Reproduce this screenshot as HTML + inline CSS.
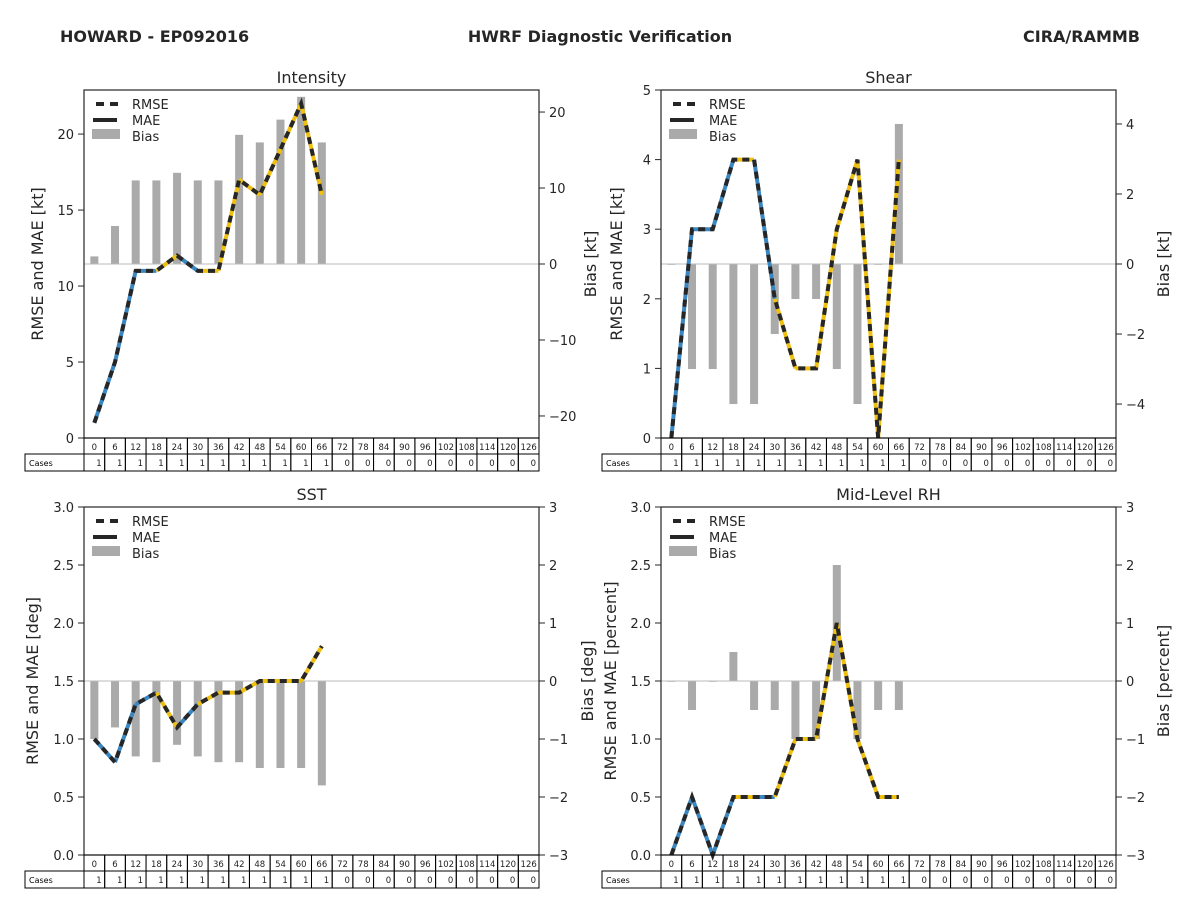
<!DOCTYPE html>
<html><head><meta charset="utf-8">
<style>
body{margin:0;background:#fff;}
svg{display:block;font-family:"DejaVu Sans","Liberation Sans",sans-serif;}
</style></head>
<body>
<svg id="chart" width="1200" height="900" viewBox="0 0 1200 900">
<rect width="1200" height="900" fill="#fff"/>
<text x="60" y="42" font-size="16" font-weight="bold" fill="#262626">HOWARD - EP092016</text>
<text x="600" y="42" font-size="16" font-weight="bold" fill="#262626" text-anchor="middle">HWRF Diagnostic Verification</text>
<text x="1140" y="42" font-size="16" font-weight="bold" fill="#262626" text-anchor="end">CIRA/RAMMB</text>
</svg>
<script>
const hours = [0,6,12,18,24,30,36,42,48,54,60,66,72,78,84,90,96,102,108,114,120,126];
const cases = [1,1,1,1,1,1,1,1,1,1,1,1,0,0,0,0,0,0,0,0,0,0];
const segColors = ['b','b','b','y','b','y','y','y','y','y','y'];
const intensityErr = [1,5,11,11,12,11,11,17,16,19,22,16];
const intensityBias = [1,5,11,11,12,11,11,17,16,19,22,16];
const shearErr = [0,3,3,4,4,2,1,1,3,4,0,4];
const shearBias = [0,-3,-3,-4,-4,-2,-1,-1,-3,-4,0,4];
const sstErr = [1.0,0.8,1.3,1.4,1.1,1.3,1.4,1.4,1.5,1.5,1.5,1.8];
const sstBias = [-1.0,-0.8,-1.3,-1.4,-1.1,-1.3,-1.4,-1.4,-1.5,-1.5,-1.5,-1.8];
const rhErr = [0,0.5,0,0.5,0.5,0.5,1,1,2,1,0.5,0.5];
const rhBias = [0,-0.5,0,0.5,-0.5,-0.5,-1,-1,2,-1,-0.5,-0.5];
const intensityTicksL = [0,5,10,15,20];
const intensityTicksR = [-20,-10,0,10,20];
const shearTicksL = [0,1,2,3,4,5];
const shearTicksR = [-4,-2,0,2,4];
const sstTicksL = [0,0.5,1,1.5,2,2.5,3];
const sstTicksR = [-3,-2,-1,0,1,2,3];

const NS='http://www.w3.org/2000/svg';
const svg=document.getElementById('chart');
function mk(tag,attrs,parent,text){const e=document.createElementNS(NS,tag);for(const k in attrs)e.setAttribute(k,attrs[k]);if(text!==undefined)e.textContent=text;(parent||svg).appendChild(e);return e;}
function fmt(v,dec){const s=dec?v.toFixed(1):String(v);return s.replace('-','\u2212');}

function panel(cfg){
  const g=mk('g',{});
  
  
  const X0=cfg.x,Y0=cfg.y,W=455,H=348;
  const cw=W/hours.length;
  const xs=i=>X0+cw*(i+0.5);
  const yl=v=>Y0+H-(v-cfg.lmin)/(cfg.lmax-cfg.lmin)*H;
  const yr=v=>Y0+H-(v-cfg.rmin)/(cfg.rmax-cfg.rmin)*H;
  const t=mk('text',{x:X0+W/2,y:Y0-7,'font-size':16,'text-anchor':'middle',fill:'#262626'},g,cfg.title);
  
  
  cfg.bias.forEach((v,i)=>{
    const y1=yr(Math.max(v,0)),y2=yr(Math.min(v,0));
    const b=mk('rect',{x:xs(i)-4,y:y1,width:8,height:Math.max(y2-y1,0.8),fill:'#aaaaaa'},g);
    
    
  });
  mk('line',{x1:X0,x2:X0+W,y1:yr(0),y2:yr(0),stroke:'#bbbbbb','stroke-width':1},g);
  for(let i=0;i<cfg.err.length-1;i++){
    const s=mk('line',{x1:xs(i),y1:yl(cfg.err[i]),x2:xs(i+1),y2:yl(cfg.err[i+1]),stroke:segColors[i]==='b'?'#3a86c0':'#f0c010','stroke-width':4,'stroke-linecap':'butt'},g);
    
    
  }
  const pts=cfg.err.map((v,i)=>xs(i)+','+yl(v)).join(' ');
  const r=mk('polyline',{points:pts,fill:'none',stroke:'#262626','stroke-width':4,'stroke-dasharray':'7,5','stroke-linejoin':'miter'},g);
  
  
  mk('rect',{x:X0,y:Y0,width:W,height:H,fill:'none',stroke:'#262626','stroke-width':1.2},g);
  cfg.tl.forEach(v=>{const y=yl(v);mk('line',{x1:X0-6,x2:X0,y1:y,y2:y,stroke:'#262626'},g);
    const tx=mk('text',{x:X0-10,y:y+5,'font-size':13,'text-anchor':'end',fill:'#262626'},g,fmt(v,cfg.dec));
    });
  cfg.tr.forEach(v=>{const y=yr(v);mk('line',{x1:X0+W,x2:X0+W+6,y1:y,y2:y,stroke:'#262626'},g);
    const tx=mk('text',{x:X0+W+10,y:y+5,'font-size':13,fill:'#262626'},g,fmt(v,false));
    });
  const ll=mk('text',{transform:`translate(${cfg.llx},${Y0+H/2}) rotate(-90)`,'font-size':16,'text-anchor':'middle',fill:'#262626'},g,cfg.lLabel);
  
  const rl=mk('text',{transform:`translate(${cfg.rlx},${Y0+H/2}) rotate(-90)`,'font-size':16,'text-anchor':'middle',fill:'#262626'},g,cfg.rLabel);
  
  const lg=mk('g',{},g);
  
  mk('line',{x1:X0+12,x2:X0+36,y1:Y0+14,y2:Y0+14,stroke:'#262626','stroke-width':4,'stroke-dasharray':'8,6'},lg);
  mk('line',{x1:X0+9,x2:X0+33,y1:Y0+30,y2:Y0+30,stroke:'#262626','stroke-width':4},lg);
  mk('rect',{x:X0+8,y:Y0+39,width:28,height:10,fill:'#aaaaaa'},lg);
  ['RMSE','MAE','Bias'].forEach((s,i)=>mk('text',{x:X0+48,y:Y0+19+i*16,'font-size':13,fill:'#262626'},lg,s));
  const tb=mk('g',{},g);
  
  const TY=Y0+H;
  mk('rect',{x:X0-59,y:TY+16,width:59,height:17,fill:'none',stroke:'#000'},tb);
  mk('text',{x:X0-55,y:TY+28,'font-size':8,fill:'#000'},tb,'Cases');
  hours.forEach((h,i)=>{
    const x=X0+cw*i;
    mk('rect',{x:x,y:TY,width:cw,height:16,fill:'none',stroke:'#000'},tb);
    mk('rect',{x:x,y:TY+16,width:cw,height:17,fill:'none',stroke:'#000'},tb);
    mk('text',{x:x+cw/2,y:TY+12,'font-size':8.5,'text-anchor':'middle',fill:'#222'},tb,String(h));
    mk('text',{x:x+cw-3,y:TY+28,'font-size':8.5,'text-anchor':'end',fill:'#222'},tb,String(cases[i]));
  });
}
panel({name:'intensity',title:'Intensity',x:84,y:90,lmin:0,lmax:22.9,rmin:-22.9,rmax:22.9,err:intensityErr,bias:intensityBias,tl:intensityTicksL,tr:intensityTicksR,dec:false,lLabel:'RMSE and MAE [kt]',rLabel:'Bias [kt]',llx:43,rlx:596});
panel({name:'shear',title:'Shear',x:661,y:90,lmin:0,lmax:5,rmin:-4.97,rmax:4.97,err:shearErr,bias:shearBias,tl:shearTicksL,tr:shearTicksR,dec:false,lLabel:'RMSE and MAE [kt]',rLabel:'Bias [kt]',llx:622,rlx:1169});
panel({name:'sst',title:'SST',x:84,y:507,lmin:0,lmax:3,rmin:-3,rmax:3,err:sstErr,bias:sstBias,tl:sstTicksL,tr:sstTicksR,dec:true,lLabel:'RMSE and MAE [deg]',rLabel:'Bias [deg]',llx:38,rlx:593});
panel({name:'mid-level-rh',title:'Mid-Level RH',x:661,y:507,lmin:0,lmax:3,rmin:-3,rmax:3,err:rhErr,bias:rhBias,tl:sstTicksL,tr:sstTicksR,dec:true,lLabel:'RMSE and MAE [percent]',rLabel:'Bias [percent]',llx:616,rlx:1169});
</script>
</body></html>
